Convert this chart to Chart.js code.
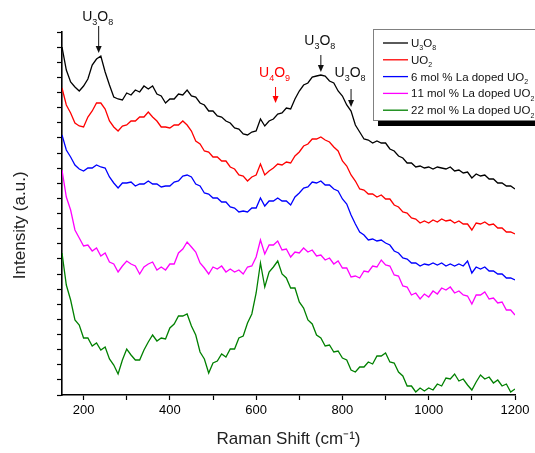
<!DOCTYPE html>
<html>
<head>
<meta charset="utf-8">
<script src="https://cdn.jsdelivr.net/npm/chart.js@4"></script>
<style>
  html, body { margin: 0; padding: 0; background: #fff; }
  #wrap { width: 535px; height: 453px; }
</style>
</head>
<body>
<div id="wrap"><canvas id="ramanChart"></canvas></div>
<script>
// Raman spectra, offset stacked (intensity in arbitrary units)
const wavenumbers = [
  150, 160, 170, 180, 190, 200, 210, 220, 230, 240,
  250, 260, 270, 280, 290, 300, 310, 320, 330, 340,
  350, 360, 370, 380, 390, 400, 410, 420, 430, 440,
  450, 460, 470, 480, 490, 500, 510, 520, 530, 540,
  550, 560, 570, 580, 590, 600, 610, 620, 630, 640,
  650, 660, 670, 680, 690, 700, 710, 720, 730, 740,
  750, 760, 770, 780, 790, 800, 810, 820, 830, 840,
  850, 860, 870, 880, 890, 900, 910, 920, 930, 940,
  950, 960, 970, 980, 990, 1000, 1010, 1020, 1030, 1040,
  1050, 1060, 1070, 1080, 1090, 1100, 1110, 1120, 1130, 1140,
  1150, 1160, 1170, 1180, 1190, 1200
];

const u3o8 = [
  348, 325, 313, 308, 304, 309, 316, 330, 336, 339,
  323, 310, 298, 296, 295, 302, 300, 305, 303, 309,
  306, 309, 301, 299, 292, 296, 296, 301, 300, 305,
  299, 298, 292, 290, 284, 284, 279, 278, 274, 272,
  267, 266, 261, 260, 263, 264, 276, 269, 274, 276,
  281, 282, 287, 286, 296, 304, 310, 312, 318, 319,
  320, 319, 314, 312, 304, 299, 290, 284, 270, 263,
  256, 255, 252, 254, 252, 252, 246, 244, 239, 237,
  232, 232, 228, 229, 227, 228, 226, 228, 227, 226,
  228, 224, 225, 222, 223, 217, 221, 219, 220, 216,
  216, 212, 212, 209, 209, 206
];

const uo2 = [
  307, 290, 282, 272, 269, 268, 278, 284, 292, 292,
  286, 274, 268, 264, 269, 270, 274, 274, 278, 278,
  283, 278, 274, 268, 268, 267, 270, 270, 274, 270,
  264, 254, 251, 244, 243, 238, 238, 234, 234, 228,
  226, 220, 219, 214, 218, 220, 231, 220, 224, 227,
  231, 230, 233, 232, 239, 243, 249, 251, 256, 256,
  258, 255, 253, 248, 244, 234, 229, 220, 214, 206,
  205, 201, 201, 198, 200, 196, 196, 190, 188, 183,
  182, 177, 176, 172, 174, 172, 175, 173, 176, 174,
  175, 172, 174, 171, 171, 165, 172, 171, 173, 170,
  171, 167, 167, 163, 163, 161
];

const la6 = [
  260, 245, 238, 230, 226, 224, 227, 227, 230, 228,
  227, 218, 212, 207, 212, 212, 213, 209, 211, 211,
  214, 211, 211, 208, 209, 209, 213, 214, 219, 220,
  218, 211, 209, 202, 201, 197, 197, 193, 193, 188,
  187, 183, 184, 183, 187, 187, 197, 189, 194, 194,
  197, 194, 194, 190, 198, 202, 207, 208, 213, 212,
  214, 210, 210, 206, 204, 196, 191, 180, 171, 163,
  160, 155, 156, 154, 155, 152, 150, 144, 142, 137,
  136, 132, 132, 129, 131, 130, 132, 130, 132, 129,
  131, 129, 131, 129, 134, 122, 128, 126, 128, 124,
  124, 121, 121, 117, 117, 115
];

const la11 = [
  225, 198, 185, 165, 157, 149, 150, 144, 147, 139,
  142, 133, 131, 123, 129, 134, 131, 129, 121, 128,
  131, 133, 125, 128, 125, 131, 131, 142, 146, 153,
  148, 143, 132, 127, 121, 128, 126, 129, 123, 126,
  123, 125, 121, 128, 129, 138, 155, 141, 150, 150,
  154, 145, 146, 138, 143, 142, 147, 143, 145, 139,
  140, 135, 137, 131, 134, 127, 127, 118, 119, 117,
  124, 123, 129, 128, 135, 130, 129, 120, 119, 109,
  108, 100, 102, 96, 101, 98, 104, 101, 107, 105,
  108, 102, 104, 100, 99, 91, 100, 100, 103, 96,
  97, 92, 93, 85, 85, 80
];

const la22 = [
  142, 110, 95, 75, 70, 57, 57, 49, 52, 45,
  48, 36, 30, 21, 35, 46, 40, 35, 35, 45,
  53, 60, 54, 57, 56, 67, 71, 79, 79, 81,
  69, 60, 43, 36, 22, 32, 34, 41, 38, 46,
  46, 57, 59, 72, 81, 102, 132, 108, 123, 128,
  134, 121, 117, 107, 107, 93, 87, 75, 71, 60,
  57, 49, 50, 43, 44, 37, 35, 25, 23, 28,
  28, 33, 31, 39, 39, 42, 33, 32, 23, 19,
  9, 9, 3, 7, 4, 7, 5, 11, 9, 17,
  16, 21, 14, 16, 10, 5, 13, 20, 16, 18,
  12, 15, 9, 11, 3, 6
];

const xTickMarks = [200, 300, 400, 500, 600, 700, 800, 900, 1000, 1100, 1200];
const xTickLabels = [200, 400, 600, 800, 1000, 1200];

// peak assignments: wavenumber, arrow tip (intensity units)
const notes = [
  { text: 'U₃O₈', at: 235, tip: 342, len: 27, gap: 5, color: '#111' },
  { text: 'U₃O₈', at: 750, tip: 323, len: 17, gap: 10, color: '#111' },
  { text: 'U₄O₉', at: 645, tip: 292, len: 16, gap: 10, color: '#ff0000' },
  { text: 'U₃O₈', at: 820, tip: 288, len: 18, gap: 12, color: '#111' }
];

const FONT = '"Liberation Sans", Arial, Helvetica, sans-serif';
const SUBS = '₀₁₂₃₄₅₆₇₈₉';

// draw a formula such as U₃O₈ with real lowered subscripts
function drawFormula(ctx, text, x, y, size, align) {
  const parts = [...text].map(ch => {
    const i = SUBS.indexOf(ch);
    return i >= 0 ? { t: String(i), sub: true } : { t: ch, sub: false };
  });
  let total = 0;
  parts.forEach(p => {
    ctx.font = (p.sub ? Math.round(size * 0.64) : size) + 'px ' + FONT;
    p.w = ctx.measureText(p.t).width;
    total += p.w;
  });
  let cx = align === 'center' ? x - total / 2 : x;
  parts.forEach(p => {
    ctx.font = (p.sub ? Math.round(size * 0.64) : size) + 'px ' + FONT;
    ctx.fillText(p.t, cx, p.sub ? y + size * 0.3 : y);
    cx += p.w;
  });
}

const notesPlugin = {
  id: 'notesPlugin',
  afterDatasetsDraw(chart) {
    const ctx = chart.ctx;
    const xs = chart.scales.x, ys = chart.scales.y;
    ctx.save();
    ctx.textBaseline = 'alphabetic';
    ctx.textAlign = 'left';

    notes.forEach(n => {
      const px = xs.getPixelForValue(n.at);
      const tipY = ys.getPixelForValue(n.tip);
      const topY = tipY - n.len;
      ctx.strokeStyle = n.color;
      ctx.fillStyle = n.color;
      ctx.lineWidth = 1;
      ctx.beginPath();
      ctx.moveTo(px, topY);
      ctx.lineTo(px, tipY - 6);
      ctx.stroke();
      ctx.beginPath();
      ctx.moveTo(px - 3, tipY - 7);
      ctx.lineTo(px + 3, tipY - 7);
      ctx.lineTo(px, tipY);
      ctx.closePath();
      ctx.fill();
      drawFormula(ctx, n.text, px - 1, topY - n.gap, 14, 'center');
    });

    // legend box with drop shadow
    const lx = 373, ly = 29, lw = 180, lh = 91;
    ctx.fillStyle = '#000';
    ctx.fillRect(lx + 5, ly + lh + 1, lw, 5);
    ctx.fillStyle = '#fff';
    ctx.fillRect(lx, ly, lw, lh);
    ctx.strokeStyle = '#808080';
    ctx.lineWidth = 1;
    ctx.strokeRect(lx + 0.5, ly + 0.5, lw, lh);

    chart.data.datasets.forEach((ds, i) => {
      const rowY = ly + 14 + i * 16.8;
      ctx.strokeStyle = ds.borderColor;
      ctx.lineWidth = 1.3;
      ctx.beginPath();
      ctx.moveTo(lx + 10, rowY);
      ctx.lineTo(lx + 35, rowY);
      ctx.stroke();
      ctx.fillStyle = '#111';
      drawFormula(ctx, ds.label, lx + 38, rowY + 4, 11.5, 'left');
    });
    ctx.restore();
  }
};

function series(label, values, color) {
  return {
    label: label,
    data: values,
    borderColor: color,
    backgroundColor: color,
    borderWidth: 1.3,
    pointRadius: 0,
    tension: 0,
    fill: false
  };
}

const ctx = document.getElementById('ramanChart').getContext('2d');
const ramanChart = new Chart(ctx, {
  type: 'line',
  data: {
    labels: wavenumbers,
    datasets: [
      series('U₃O₈', u3o8, '#000000'),
      series('UO₂', uo2, '#ff0000'),
      series('6 mol % La doped UO₂', la6, '#0000ff'),
      series('11 mol % La doped UO₂', la11, '#ff00ff'),
      series('22 mol % La doped UO₂', la22, '#008000')
    ]
  },
  options: {
    responsive: true,
    maintainAspectRatio: false,
    animation: false,
    layout: { padding: { top: 32, right: 20, left: 0, bottom: 0 } },
    plugins: {
      legend: { display: false },
      tooltip: { enabled: false }
    },
    scales: {
      x: {
        type: 'linear',
        min: 150,
        max: 1200,
        afterBuildTicks: s => { s.ticks = xTickMarks.map(v => ({ value: v })); },
        afterFit: s => { s.height = 58; },
        ticks: {
          autoSkip: false,
          maxRotation: 0,
          padding: 3,
          color: '#000',
          font: { family: FONT, size: 13 },
          callback: v => xTickLabels.includes(v) ? String(v) : ''
        },
        grid: { drawOnChartArea: false, tickLength: 5, tickColor: '#000', tickWidth: 1.2 },
        border: { color: '#000', width: 1.6 },
        title: {
          display: true,
          text: 'Raman Shift (cm⁻¹)',
          color: '#222',
          font: { family: FONT, size: 17 },
          padding: { top: 0, bottom: 3 }
        }
      },
      y: {
        min: 0,
        max: 363,
        afterBuildTicks: s => {
          const t = [];
          for (let k = 0; k <= 24; k++) t.push({ value: k * 15.125 });
          s.ticks = t;
        },
        afterFit: s => { s.width = 62; },
        ticks: { display: false },
        grid: { drawOnChartArea: false, tickLength: 5, tickColor: '#000', tickWidth: 1.2 },
        border: { color: '#000', width: 1.6 },
        title: {
          display: true,
          text: 'Intensity (a.u.)     ',
          color: '#222',
          font: { family: FONT, size: 17 },
          padding: { top: 10, bottom: 0 }
        }
      }
    }
  },
  plugins: [notesPlugin]
});
</script>
</body>
</html>
